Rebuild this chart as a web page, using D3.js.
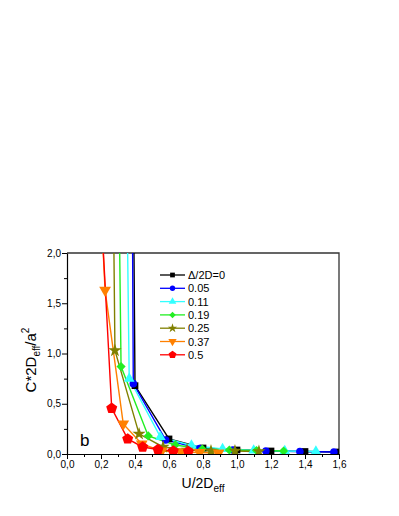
<!DOCTYPE html>
<html>
<head>
<meta charset="utf-8">
<script src="https://cdn.jsdelivr.net/npm/d3@7"></script>
<style>
  body { margin: 0; background: #fff; }
  text { font-family: "Liberation Sans", Arial, sans-serif; }
</style>
</head>
<body>
<div id="chart"></div>
<script>
// series labels
var seriesNames = ["\u0394/2D=0", "0.05", "0.11", "0.19", "0.25", "0.37", "0.5"];

// U/2Deff values per series (first point lies above the plot, line comes from the top)
var u0    = [0.385, 0.40, 0.60, 0.80, 1.00, 1.20, 1.40, 1.60];
var u005  = [0.380, 0.39, 0.58, 0.78, 0.975, 1.17, 1.37, 1.57];
var u011  = [0.342, 0.366, 0.549, 0.732, 0.915, 1.098, 1.281, 1.464];
var u019  = [0.296, 0.318, 0.478, 0.637, 0.796, 0.955, 1.115, 1.274];
var u025  = [0.264, 0.282, 0.424, 0.565, 0.706, 0.847, 0.988, 1.129];
var u037  = [0.154, 0.224, 0.331, 0.44, 0.557, 0.669, 0.78, 0.892];
var u05   = [0.151, 0.263, 0.357, 0.445, 0.535, 0.625, 0.714];

// C*2Deff/a^2 values per series
var c0    = [4, 0.68, 0.15, 0.06, 0.04, 0.03, 0.025, 0.02];
var c005  = [4, 0.70, 0.14, 0.055, 0.04, 0.03, 0.025, 0.02];
var c011  = [4, 0.75, 0.17, 0.085, 0.05, 0.035, 0.03, 0.025];
var c019  = [4, 0.87, 0.18, 0.09, 0.05, 0.04, 0.035, 0.03];
var c025  = [4, 1.03, 0.20, 0.07, 0.04, 0.03, 0.03, 0.025];
var c037  = [4, 1.63, 0.30, 0.10, 0.03, 0.02, 0.015, 0.01];
var c05   = [4, 0.455, 0.15, 0.07, 0.045, 0.03, 0.025];

var xTicks = [0, 0.2, 0.4, 0.6, 0.8, 1.0, 1.2, 1.4, 1.6];
var yTicks = [0, 0.5, 1.0, 1.5, 2.0];

var colors = ["#000000", "#0000ff", "#33ffff", "#22ee22", "#808000", "#ff8000", "#ff0000"];

// custom pentagon symbol
var symbolPentagon = {
  draw: function(context, size) {
    var r = Math.sqrt(size / 2.378);
    for (var i = 0; i < 5; i++) {
      var a = -Math.PI / 2 + i * 2 * Math.PI / 5;
      if (i == 0) context.moveTo(r * Math.cos(a), r * Math.sin(a));
      else context.lineTo(r * Math.cos(a), r * Math.sin(a));
    }
    context.closePath();
  }
};

var markers = [
  {type: d3.symbolSquare, size: 45, rot: 0},
  {type: d3.symbolCircle, size: 45, rot: 0},
  {type: d3.symbolTriangle, size: 50, rot: 0},
  {type: d3.symbolSquare, size: 42, rot: 45},
  {type: d3.symbolStar, size: 55, rot: 0},
  {type: d3.symbolTriangle, size: 60, rot: 180},
  {type: symbolPentagon, size: 80, rot: 0}
];

var uData = [u0, u005, u011, u019, u025, u037, u05];
var cData = [c0, c005, c011, c019, c025, c037, c05];

var margin = {top: 253, right: 60, bottom: 62, left: 67},
    width = 399, height = 516,
    plotW = width - margin.left - margin.right,
    plotH = height - margin.top - margin.bottom;

var svg = d3.select("#chart")
  .append("svg")
    .attr("width", width)
    .attr("height", height);

var g = svg.append("g")
  .attr("transform", "translate(" + margin.left + "," + margin.top + ")");

var x = d3.scaleLinear().domain([0, 1.6]).range([0, plotW]);
var y = d3.scaleLinear().domain([0, 2]).range([plotH, 0]);

var fmt = function(d) { return d3.format(".1f")(d).replace(".", ","); };

g.append("defs").append("clipPath").attr("id", "clip")
  .append("rect").attr("width", plotW).attr("height", plotH);

// frame (top and right)
g.append("path")
  .attr("d", "M0,0H" + plotW + "V" + plotH)
  .attr("fill", "none")
  .attr("stroke", "#333")
  .attr("stroke-width", 1.3);

// minor ticks
g.append("g")
  .attr("transform", "translate(0," + plotH + ")")
  .call(d3.axisBottom(x).tickValues(d3.range(0.1, 1.6, 0.2)).tickSize(3).tickFormat(""))
  .call(function(a) { a.select(".domain").remove(); });
g.append("g")
  .call(d3.axisLeft(y).tickValues([0.25, 0.75, 1.25, 1.75]).tickSize(3).tickFormat(""))
  .call(function(a) { a.select(".domain").remove(); });

// major axes
var xAxis = g.append("g")
  .attr("transform", "translate(0," + plotH + ")")
  .call(d3.axisBottom(x).tickValues(xTicks).tickSize(5).tickSizeOuter(0).tickFormat(fmt));
var yAxis = g.append("g")
  .call(d3.axisLeft(y).tickValues(yTicks).tickSize(5).tickSizeOuter(0).tickFormat(fmt));
[xAxis, yAxis].forEach(function(a) {
  a.selectAll("text").attr("font-size", 10).attr("fill", "#000")
    .style("font-family", "'Liberation Sans', Arial, sans-serif");
  a.select(".domain").attr("stroke-width", 1.2);
});
xAxis.selectAll("text").attr("dy", "0.9em").attr("y", 5);
yAxis.selectAll("text").attr("x", -6);

// series lines and markers
var plot = g.append("g").attr("clip-path", "url(#clip)");
var line = d3.line()
  .x(function(d) { return x(d[0]); })
  .y(function(d) { return y(d[1]); });

for (var s = 0; s < 7; s++) {
  var pts = uData[s].map(function(u, i) { return [u, cData[s][i]]; });
  plot.append("path")
    .datum(pts)
    .attr("d", line)
    .attr("fill", "none")
    .attr("stroke", colors[s])
    .attr("stroke-width", 1.4);
}
for (var s = 0; s < 7; s++) {
  var pts = uData[s].map(function(u, i) { return [u, cData[s][i]]; });
  var m = markers[s];
  plot.selectAll(".m" + s)
    .data(pts)
    .enter()
    .append("path")
      .attr("d", d3.symbol().type(m.type).size(m.size))
      .attr("transform", function(d) {
        return "translate(" + x(d[0]) + "," + y(d[1]) + ") rotate(" + m.rot + ")";
      })
      .attr("fill", colors[s]);
}

// legend
var legend = svg.append("g").attr("transform", "translate(160,275)");
seriesNames.forEach(function(name, i) {
  var row = legend.append("g").attr("transform", "translate(0," + (i * 13.3) + ")");
  row.append("line")
    .attr("x1", 0).attr("x2", 25)
    .attr("stroke", colors[i]).attr("stroke-width", 1.3);
  row.append("path")
    .attr("d", d3.symbol().type(markers[i].type).size(markers[i].size * 0.5))
    .attr("transform", "translate(12.5,0) rotate(" + markers[i].rot + ")")
    .attr("fill", colors[i]);
  row.append("text")
    .attr("x", 28).attr("y", 4)
    .attr("font-size", 11)
    .text(name);
});

// panel letter
svg.append("text")
  .attr("x", 80).attr("y", 446)
  .attr("font-size", 17)
  .text("b");

// axis titles
var xt = svg.append("text")
  .attr("x", 203).attr("y", 488)
  .attr("text-anchor", "middle")
  .attr("font-size", 14);
xt.append("tspan").text("U/2D");
xt.append("tspan").attr("font-size", 10).attr("dy", 4).text("eff");

var yt = svg.append("text")
  .attr("transform", "translate(36,360) rotate(-90)")
  .attr("text-anchor", "middle")
  .attr("font-size", 15);
yt.append("tspan").text("C*2D");
yt.append("tspan").attr("font-size", 10).attr("dy", 4).text("eff");
yt.append("tspan").attr("dy", -4).text("/a");
yt.append("tspan").attr("font-size", 10).attr("dy", -7).text("2");
</script>
</body>
</html>
